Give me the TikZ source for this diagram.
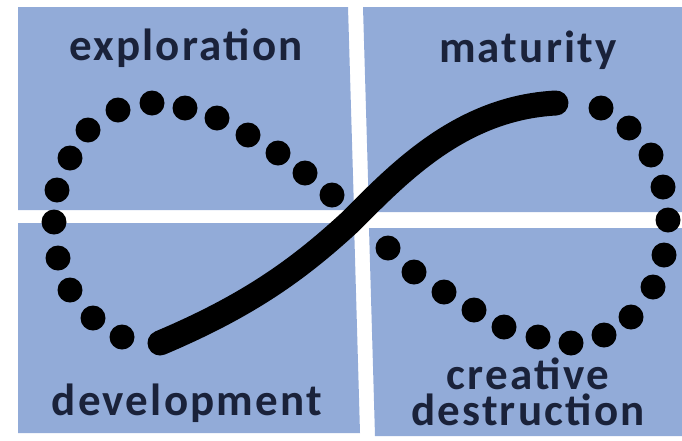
\documentclass[tikz,border=0pt]{standalone}
\usepackage{fontspec}
\setmainfont{Carlito}
\newfontfamily\labfont[LetterSpace=5]{Carlito}
\definecolor{qblue}{RGB}{146,171,216}
\definecolor{ink}{RGB}{26,34,58}
\begin{document}
\begin{tikzpicture}[x=1pt,y=-1pt,
  quad/.style={fill=qblue},
  dotmark/.style={fill=black},
  sline/.style={line width=25pt, line cap=round, black},
  lab/.style={text=ink, font=\labfont\fontsize{45}{36}\selectfont\bfseries, anchor=base, inner sep=0pt, align=center}]
\useasboundingbox (0,0) rectangle (682,440);
\fill[white] (0,0) rectangle (682,440);
% quadrants
\fill[quad] (18,7) -- (348,7) -- (354,210) -- (18,210) -- cycle;
\fill[quad] (363,7) -- (682,7) -- (682,212) -- (369,212) -- cycle;
\fill[quad] (18,223) -- (354,223) -- (360,433) -- (18,433) -- cycle;
\fill[quad] (369,228) -- (682,228) -- (682,436) -- (375,436) -- cycle;
% dots
\foreach \p in {(122,337),(93,318),(70,290),(58,258),(54,222),(57,190),(70,158),(88,130),(118,110),(152,103),(185,108),(217,118),(248,135),(278,153),(305,173),(332,195),
  (601,108),(629,128),(651,155),(663,187),(668,220),(664,255),(653,287),(631,317),(604,335),(571,343),(538,337),(504,327),(474,310),(444,292),(414,272),(388,248)}
  \fill[dotmark] \p circle (12.5);
% solid S-curve
\coordinate (sstart) at (160,343);
\coordinate (smid) at (350,222);
\coordinate (send) at (556,103);
\draw[sline] (sstart) .. controls (250,305) and (300,268) .. (smid)
                      .. controls (398,174) and (460,108) .. (send);
% labels
\node[lab] (explo) at (186,60) {exploration};
\node[lab] (matur) at (528,62) {maturity};
\node[lab] (devel) at (187,415) {development};
\node[lab] (credes) at (528,425) {creative\\destruction};
\end{tikzpicture}
\end{document}
